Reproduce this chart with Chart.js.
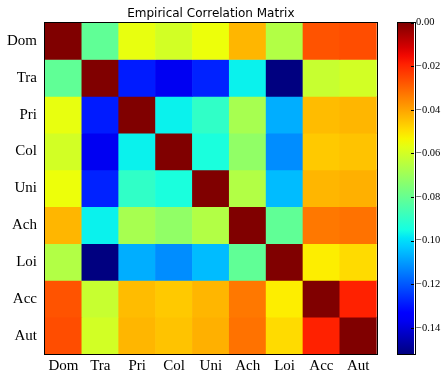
<!DOCTYPE html>
<html>
<head>
    <title>Empirical Correlation Matrix</title>
    <script src="https://cdn.jsdelivr.net/npm/chart.js"></script>
    <style>
body {
    margin: 0;
    background: #fff;
}
#wrap {
    position: relative;
    width: 447px;
    height: 372px;
}
#matrixChart {
    position: absolute;
    left: 0;
    top: 0;
}
#cbarChart {
    position: absolute;
    left: 390px;
    top: 0;
}
    </style>
</head>
<body>
<div id="wrap">
  <canvas id="matrixChart" width="390" height="372"></canvas>
  <canvas id="cbarChart" width="57" height="372"></canvas>
</div>

<script>
// variable names (rows and columns)
const labels = ['Dom', 'Tra', 'Pri', 'Col', 'Uni', 'Ach', 'Loi', 'Acc', 'Aut'];

// matrix rows
const rowDom = [0.000, -0.081, -0.056, -0.060, -0.055, -0.043, -0.066, -0.027, -0.026];
const rowTra = [-0.081, 0.000, -0.129, -0.137, -0.128, -0.097, -0.152, -0.062, -0.060];
const rowPri = [-0.056, -0.129, 0.000, -0.097, -0.090, -0.068, -0.107, -0.044, -0.043];
const rowCol = [-0.060, -0.137, -0.097, 0.000, -0.094, -0.072, -0.112, -0.046, -0.045];
const rowUni = [-0.055, -0.128, -0.090, -0.094, 0.000, -0.066, -0.105, -0.043, -0.042];
const rowAch = [-0.043, -0.097, -0.068, -0.072, -0.066, 0.000, -0.081, -0.033, -0.032];
const rowLoi = [-0.066, -0.152, -0.107, -0.112, -0.105, -0.081, 0.000, -0.052, -0.049];
const rowAcc = [-0.027, -0.062, -0.044, -0.046, -0.043, -0.033, -0.052, 0.000, -0.019];
const rowAut = [-0.026, -0.060, -0.043, -0.045, -0.042, -0.032, -0.049, -0.019, 0.000];
const rows = [rowDom, rowTra, rowPri, rowCol, rowUni, rowAch, rowLoi, rowAcc, rowAut];

// colour limits and colorbar ticks
const vmin = -0.152;
const vmax = 0.0;
const cbarTicks = [0.00, -0.02, -0.04, -0.06, -0.08, -0.10, -0.12, -0.14];

// matplotlib "jet" segments
const jetR = [[0, 0], [0.35, 0], [0.66, 1], [0.89, 1], [1, 0.5]];
const jetG = [[0, 0], [0.125, 0], [0.375, 1], [0.64, 1], [0.91, 0], [1, 0]];
const jetB = [[0, 0.5], [0.11, 1], [0.34, 1], [0.65, 0], [1, 0]];

function seg(pts, t) {
    for (let i = 1; i < pts.length; i++) {
        if (t <= pts[i][0]) {
            const [x0, y0] = pts[i - 1], [x1, y1] = pts[i];
            return y0 + (y1 - y0) * (t - x0) / (x1 - x0);
        }
    }
    return pts[pts.length - 1][1];
}

function jet(t) {
    t = Math.min(1, Math.max(0, t));
    const r = Math.round(seg(jetR, t) * 255);
    const g = Math.round(seg(jetG, t) * 255);
    const b = Math.round(seg(jetB, t) * 255);
    return `rgb(${r},${g},${b})`;
}

function colorFor(v) {
    return jet((v - vmin) / (vmax - vmin));
}

// black frame round the plot area
const framePlugin = {
    id: 'frame',
    afterDraw(chart) {
        const a = chart.chartArea;
        const c = chart.ctx;
        c.save();
        c.strokeStyle = '#000';
        c.lineWidth = 1;
        c.strokeRect(Math.round(a.left) - 0.5, Math.round(a.top) - 0.5,
                     Math.round(a.right - a.left) + 1, Math.round(a.bottom - a.top) + 1);
        c.restore();
    }
};

// small inward tick marks on the colorbar's right edge
const cbarTickPlugin = {
    id: 'cbarTicks',
    afterDraw(chart) {
        const a = chart.chartArea;
        const y = chart.scales.y;
        const c = chart.ctx;
        c.save();
        c.strokeStyle = '#000';
        c.lineWidth = 1;
        cbarTicks.forEach(v => {
            const py = Math.round(y.getPixelForValue(v)) + 0.5;
            c.beginPath();
            c.moveTo(a.right - 3, py);
            c.lineTo(a.right, py);
            c.stroke();
        });
        c.restore();
    }
};

const serif = "'Liberation Serif', 'DejaVu Serif', serif";

// heatmap: one floating-bar dataset per row
const datasets = rows.map((row, i) => ({
    label: labels[i],
    data: row.map(() => [i, i + 1]),
    backgroundColor: row.map(v => colorFor(v)),
    borderWidth: 0,
    barPercentage: 1.0,
    categoryPercentage: 1.0
}));

new Chart(document.getElementById('matrixChart'), {
    type: 'bar',
    data: { labels: labels, datasets: datasets },
    options: {
        responsive: false,
        animation: false,
        devicePixelRatio: 1,
        layout: { padding: { left: 0, right: 13.3, top: 0, bottom: 0 } },
        plugins: {
            legend: { display: false },
            tooltip: { enabled: false },
            title: {
                display: true,
                text: 'Empirical Correlation Matrix',
                fullSize: false,
                color: '#000',
                font: { family: "'DejaVu Sans', sans-serif", size: 12, weight: 'normal' },
                padding: { top: 6.5, bottom: 1.8 }
            }
        },
        scales: {
            x: {
                stacked: true,
                grid: { display: false, drawTicks: false },
                border: { display: false },
                ticks: { color: '#000', font: { family: serif, size: 15 }, padding: 3, maxRotation: 0 },
                afterFit(scale) { scale.height = 18; }
            },
            y: {
                stacked: false,
                min: 0,
                max: 9,
                reverse: true,
                grid: { display: false, drawTicks: false },
                border: { display: false },
                afterBuildTicks(scale) {
                    scale.ticks = labels.map((_, i) => ({ value: i + 0.5 }));
                },
                ticks: {
                    color: '#000',
                    font: { family: serif, size: 15 },
                    padding: 8,
                    callback: (v) => labels[Math.floor(v)]
                },
                afterFit(scale) { scale.width = 45; }
            }
        }
    },
    plugins: [framePlugin]
});

// colorbar: a single floating bar filled with the jet gradient
new Chart(document.getElementById('cbarChart'), {
    type: 'bar',
    data: {
        labels: [''],
        datasets: [{
            data: [[vmin, vmax]],
            borderWidth: 0,
            barPercentage: 1.0,
            categoryPercentage: 1.0,
            backgroundColor(ctx) {
                const chart = ctx.chart;
                if (!chart.chartArea) return '#000';
                const y = chart.scales.y;
                const g = chart.ctx.createLinearGradient(0, y.getPixelForValue(vmin), 0, y.getPixelForValue(vmax));
                for (let k = 0; k <= 40; k++) g.addColorStop(k / 40, jet(k / 40));
                return g;
            }
        }]
    },
    options: {
        responsive: false,
        animation: false,
        devicePixelRatio: 1,
        layout: { padding: { left: 7.5, right: 0, top: 22.7, bottom: 18 } },
        plugins: { legend: { display: false }, tooltip: { enabled: false } },
        scales: {
            x: { display: false },
            y: {
                position: 'right',
                min: vmin,
                max: vmax,
                grid: { display: false, drawTicks: false },
                border: { display: false },
                afterBuildTicks(scale) {
                    scale.ticks = cbarTicks.map(v => ({ value: v }));
                },
                ticks: {
                    color: '#000',
                    font: { family: serif, size: 10.5 },
                    padding: 2,
                    callback: (v) => v === 0 ? '0.00' : '\u2212' + Math.abs(v).toFixed(2)
                },
                afterFit(scale) { scale.width = 33; }
            }
        }
    },
    plugins: [framePlugin, cbarTickPlugin]
});
</script>
</body>
</html>
